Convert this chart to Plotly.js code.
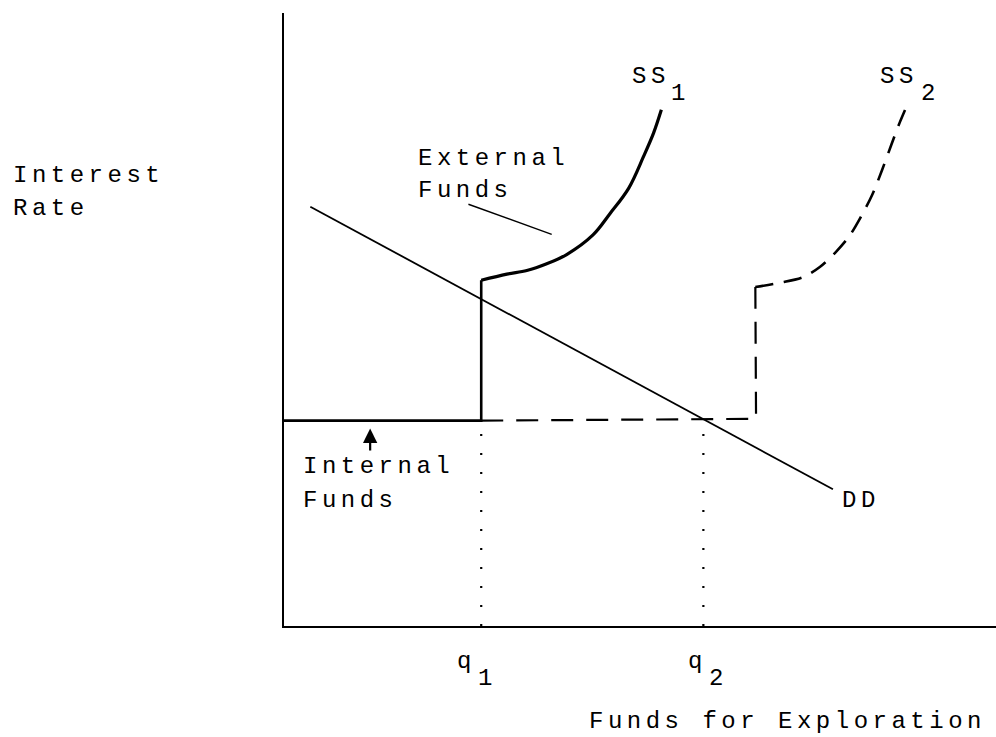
<!DOCTYPE html>
<html>
<head>
<meta charset="utf-8">
<script src="https://cdn.plot.ly/plotly-3.0.1.min.js"></script>
<style>
  html, body { margin: 0; padding: 0; background: #fff; }
  #chart { width: 996px; height: 737px; }
  text { letter-spacing: 4.5px; }
</style>
</head>
<body>
<div id="chart"></div>
<script>
// ---- Data (schematic units: 0-100 on each axis) ----
const qNames = ['q', 'q'];
const qSubs = ['1', '2'];
const qValues = [27.7, 58.9];
const internalRate = 33.5;

// Internal funds supply (flat) + jump at q1
const ss1StepX = [0, 27.7, 27.7];
const ss1StepY = [33.5, 33.5, 56.4];
// External funds supply curve SS1
const ss1CurveX = [27.7, 31.3, 34.1, 36.9, 39.7, 43.4, 45.8, 48.4, 50.5, 51.9, 53.0];
const ss1CurveY = [56.4, 57.4, 58.0, 59.1, 60.6, 63.8, 67.3, 71.4, 76.6, 80.4, 84.2];

// SS2 (dashed): extended internal funds then jump
const ss2StepX = [27.7, 66.3, 66.2];
const ss2StepY = [33.5, 33.8, 55.3];
const ss2CurveX = [66.2, 69.7, 72.9, 75.3, 77.5, 79.4, 81.0, 82.6, 84.0, 85.3, 86.5, 87.6];
const ss2CurveY = [55.3, 56.0, 56.9, 58.6, 61.0, 63.6, 66.7, 70.3, 74.4, 78.5, 82.2, 85.2];

// Demand DD
const ddX = [3.7, 77.1];
const ddY = [68.4, 22.3];

// Leader line for "External Funds"
const leaderX = [25.9, 37.6];
const leaderY = [68.8, 63.9];

// Arrow for "Internal Funds" (tail -> tip)
const arrowX = [12.1, 12.1];
const arrowY = [28.4, 32.2];

// ---- Layout helpers ----
const L = 284, T = 13, W = 712, H = 613;
const FONT = 'Courier New, Liberation Mono, monospace';
function lab(text, leftPx, basePx) {
  return {
    text: text, xref: 'paper', yref: 'paper',
    x: (leftPx - L) / W, y: (626 - (basePx - 6.5)) / H,
    xanchor: 'left', yanchor: 'middle', showarrow: false,
    font: {family: FONT, size: 24, color: '#000'}
  };
}

const black = '#000';
const traces = [
  {x: ss1StepX, y: ss1StepY, mode: 'lines', line: {color: black, width: 2.6, shape: 'linear'}},
  {x: ss1CurveX, y: ss1CurveY, mode: 'lines', line: {color: black, width: 3.2, shape: 'spline', smoothing: 1}},
  {x: ss2StepX, y: ss2StepY, mode: 'lines', line: {color: black, width: 2.2, dash: '22px,13px'}},
  {x: ss2CurveX, y: ss2CurveY, mode: 'lines', line: {color: black, width: 2.6, dash: '18px,11px', shape: 'spline', smoothing: 0.9}},
  {x: ddX, y: ddY, mode: 'lines', line: {color: black, width: 1.8}},
  {x: leaderX, y: leaderY, mode: 'lines', line: {color: black, width: 1.4}},
  {x: [qValues[0], qValues[0]], y: [0, internalRate], mode: 'lines', line: {color: black, width: 2.2, dash: '2px,17px'}},
  {x: [qValues[1], qValues[1]], y: [0, internalRate], mode: 'lines', line: {color: black, width: 2.2, dash: '2px,17px'}}
];
traces.forEach(t => { t.hoverinfo = 'skip'; t.showlegend = false; });

const annotations = [
  lab('Interest', 11, 182),
  lab('Rate', 11, 215),
  lab('External', 416, 165),
  lab('Funds', 416, 197),
  lab('Internal', 301, 473),
  lab('Funds', 301, 507),
  lab('DD', 840, 507),
  lab('SS', 630, 83), lab('1', 669, 100),
  lab('SS', 878, 83), lab('2', 919, 100),
  lab(qNames[0], 455, 668), lab(qSubs[0], 476, 685),
  lab(qNames[1], 686, 668), lab(qSubs[1], 707, 685),
  lab('Funds for Exploration', 587, 728),
  {
    x: arrowX[1], y: arrowY[1], ax: arrowX[0], ay: arrowY[0],
    xref: 'x', yref: 'y', axref: 'x', ayref: 'y',
    text: '', showarrow: true, arrowhead: 2, arrowsize: 1.3, arrowwidth: 2.2, arrowcolor: black
  }
];

const axisCommon = {
  showline: true, linecolor: black, linewidth: 2.2, mirror: false,
  showgrid: false, zeroline: false, showticklabels: false, ticks: '',
  fixedrange: true
};

const layout = {
  width: 996, height: 737,
  margin: {l: L, r: 0, t: T, b: 737 - T - H, pad: 0},
  paper_bgcolor: '#fff', plot_bgcolor: '#fff',
  showlegend: false,
  xaxis: Object.assign({range: [0, 100]}, axisCommon),
  yaxis: Object.assign({range: [0, 100]}, axisCommon),
  annotations: annotations,
  font: {family: FONT, color: black}
};

Plotly.newPlot('chart', traces, layout, {displayModeBar: false, staticPlot: true});
</script>
</body>
</html>
